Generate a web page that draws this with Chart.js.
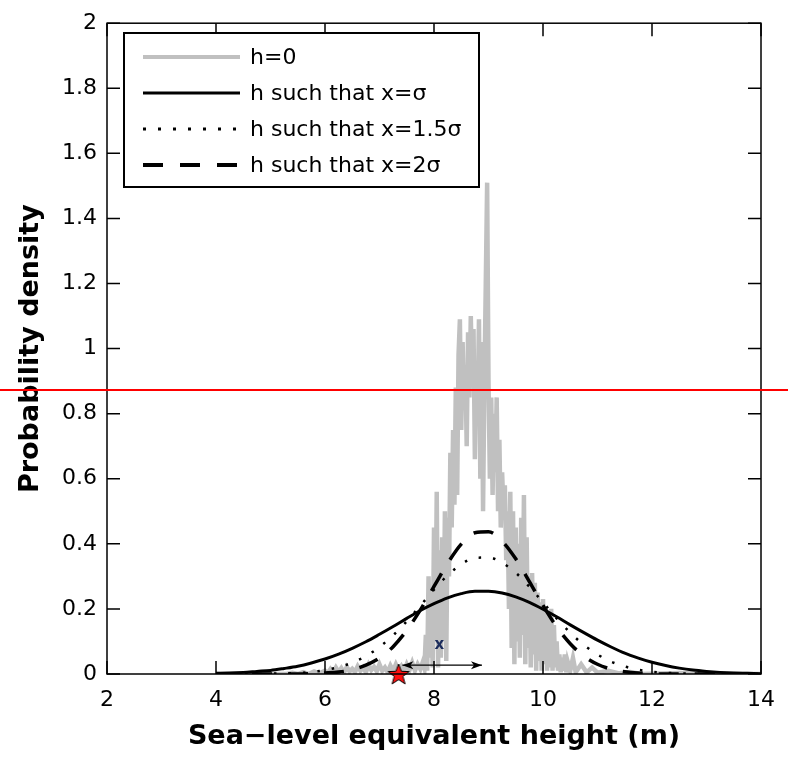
<!DOCTYPE html>
<html>
<head>
<meta charset="utf-8">
<script src="https://cdn.jsdelivr.net/npm/chart.js@4.4.0/dist/chart.umd.min.js"></script>
<style>
  html, body { margin: 0; padding: 0; background: #fff; }
</style>
</head>
<body>
<canvas id="chart" width="788" height="765"></canvas>
<script>
// values
var xTicks = [2, 4, 6, 8, 10, 12, 14];
var yTicks = [0, 0.2, 0.4, 0.6, 0.8, 1, 1.2, 1.4, 1.6, 1.8, 2];
var yTickLabels = ['0', '0.2', '0.4', '0.6', '0.8', '1', '1.2', '1.4', '1.6', '1.8', '2'];

var legendLabels = ['h=0', 'h such that x=\u03c3', 'h such that x=1.5\u03c3', 'h such that x=2\u03c3'];

// smooth curves, sampled every 0.25 m
var curveX = [4, 4.25, 4.5, 4.75, 5, 5.25, 5.5, 5.75, 6, 6.25, 6.5, 6.75, 7, 7.25, 7.5, 7.75,
  8, 8.25, 8.5, 8.75, 9, 9.25, 9.5, 9.75, 10, 10.25, 10.5, 10.75, 11, 11.25, 11.5, 11.75,
  12, 12.25, 12.5, 12.75, 13, 13.25, 13.5, 13.75, 14];
var solidY = [0.002, 0.003, 0.005, 0.008, 0.011, 0.017, 0.024, 0.034, 0.046, 0.061, 0.079, 0.099, 0.122, 0.146, 0.171, 0.195,
  0.216, 0.234, 0.247, 0.254, 0.254, 0.249, 0.237, 0.220, 0.199, 0.176, 0.151, 0.127, 0.104, 0.083, 0.064, 0.049,
  0.036, 0.026, 0.018, 0.012, 0.008, 0.005, 0.003, 0.002, 0.001];
var dottedY = [0, 0, 0, 0, 0.001, 0.002, 0.003, 0.006, 0.012, 0.021, 0.035, 0.055, 0.083, 0.119, 0.162, 0.21,
  0.259, 0.303, 0.337, 0.357, 0.358, 0.342, 0.311, 0.268, 0.22, 0.171, 0.127, 0.089, 0.06, 0.038, 0.023, 0.013,
  0.007, 0.004, 0.002, 0.001, 0, 0, 0, 0, 0];
var dashedY = [0, 0, 0, 0, 0, 0, 0, 0.001, 0.003, 0.006, 0.013, 0.027, 0.049, 0.084, 0.134, 0.197,
  0.269, 0.34, 0.399, 0.434, 0.437, 0.408, 0.354, 0.284, 0.211, 0.145, 0.093, 0.055, 0.03, 0.015, 0.007, 0.003,
  0.001, 0, 0, 0, 0, 0, 0, 0, 0];

// noisy h=0 density, [height, density]
var grayPts = [
  [4, 0], [5.3, 0], [5.4, 0.004], [5.5, 0], [5.6, 0.006], [5.7, 0], [5.8, 0.008], [5.9, 0.002],
  [6.0, 0.01], [6.05, 0.003], [6.1, 0.015], [6.15, 0.004], [6.2, 0.02], [6.25, 0.006], [6.3, 0.018], [6.35, 0.005],
  [6.4, 0.022], [6.45, 0.008], [6.5, 0.016], [6.55, 0.006], [6.6, 0.024], [6.65, 0.01], [6.7, 0.02], [6.75, 0.005],
  [6.8, 0.028], [6.85, 0.012], [6.9, 0.022], [6.95, 0.008], [7.0, 0.03], [7.05, 0.01], [7.1, 0.02], [7.15, 0.006],
  [7.2, 0.026], [7.25, 0.01], [7.3, 0.03], [7.35, 0.012], [7.4, 0.024], [7.45, 0.008], [7.5, 0.03], [7.55, 0.012],
  [7.6, 0.035], [7.65, 0.01], [7.7, 0.03], [7.75, 0.015], [7.8, 0.04],
  [7.825, 0.02], [7.85, 0.12], [7.875, 0.01], [7.9, 0.3], [7.925, 0.05], [7.95, 0.22], [7.975, 0.02],
  [8.0, 0.45], [8.025, 0.1], [8.05, 0.56], [8.075, 0.02], [8.1, 0.38], [8.125, 0.05], [8.15, 0.42], [8.175, 0.1],
  [8.2, 0.5], [8.225, 0.04], [8.25, 0.48], [8.275, 0.3], [8.3, 0.68], [8.325, 0.45], [8.35, 0.75], [8.375, 0.52],
  [8.4, 0.88], [8.425, 0.55], [8.45, 0.98], [8.475, 1.09], [8.5, 0.75], [8.525, 1.02], [8.55, 0.82], [8.575, 0.95],
  [8.6, 0.7], [8.625, 1.05], [8.65, 0.85], [8.675, 1.1], [8.7, 0.9], [8.725, 1.06], [8.75, 0.66], [8.775, 0.95],
  [8.8, 0.8], [8.825, 1.09], [8.85, 0.6], [8.875, 1.02], [8.9, 0.5], [8.925, 0.9], [8.95, 1.2], [8.975, 1.51],
  [9.0, 0.9], [9.025, 0.6], [9.05, 0.85], [9.075, 0.55], [9.1, 0.8], [9.125, 0.62], [9.15, 0.85], [9.175, 0.5],
  [9.2, 0.72], [9.225, 0.45], [9.25, 0.62], [9.275, 0.5], [9.3, 0.58], [9.325, 0.35], [9.35, 0.5], [9.375, 0.2],
  [9.4, 0.56], [9.425, 0.08], [9.45, 0.5], [9.475, 0.03], [9.5, 0.45], [9.525, 0.1], [9.55, 0.4], [9.575, 0.05],
  [9.6, 0.48], [9.625, 0.12], [9.65, 0.55], [9.675, 0.03], [9.7, 0.42], [9.725, 0.08], [9.75, 0.3], [9.775, 0.02],
  [9.8, 0.31], [9.825, 0.06], [9.85, 0.28], [9.875, 0.01], [9.9, 0.25], [9.925, 0.04], [9.95, 0.22], [9.975, 0.01],
  [10.0, 0.23], [10.025, 0.03], [10.05, 0.2], [10.075, 0.01], [10.1, 0.18], [10.125, 0.02], [10.15, 0.2], [10.175, 0.01],
  [10.2, 0.15], [10.225, 0.02], [10.25, 0.1], [10.275, 0.01], [10.3, 0.06], [10.325, 0.005], [10.35, 0.05], [10.375, 0.01],
  [10.4, 0.06], [10.425, 0.005], [10.45, 0.04], [10.5, 0.01], [10.55, 0.05], [10.6, 0.005],
  [10.7, 0.03], [10.8, 0.005], [10.9, 0.02], [11.0, 0.004], [11.2, 0.01], [11.4, 0.002], [11.6, 0.006], [11.8, 0],
  [12.5, 0.003], [13.0, 0], [14, 0]
];

// annotations
var starPoint = [7.35, 0];
var arrowX = [7.42, 8.88];
var arrowY = 0.027;
var xMark = [8.1, 0.088];
var redLineY = 0.873;

function pairs(xs, ys) {
  return xs.map(function(x, i) { return {x: x, y: ys[i]}; });
}

// red star marker
function makeStar() {
  var c = document.createElement('canvas');
  c.width = 26; c.height = 26;
  var g = c.getContext('2d');
  g.beginPath();
  for (var i = 0; i < 10; i++) {
    var r = (i % 2 == 0) ? 11 : 4.6;
    var a = -Math.PI / 2 + i * Math.PI / 5;
    var px = 13 + r * Math.cos(a), py = 14 + r * Math.sin(a);
    if (i == 0) g.moveTo(px, py); else g.lineTo(px, py);
  }
  g.closePath();
  g.fillStyle = '#ff1010';
  g.fill();
  g.strokeStyle = '#000';
  g.lineWidth = 1;
  g.stroke();
  return c;
}

Chart.defaults.font.family = '"DejaVu Sans", sans-serif';
Chart.defaults.color = '#000';

var overlayPlugin = {
  id: 'overlay',
  afterDatasetsDraw: function(chart) {
    var ctx = chart.ctx, a = chart.chartArea;
    var xs = chart.scales.x, ys = chart.scales.y;
    ctx.save();
    // box
    ctx.strokeStyle = '#000';
    ctx.lineWidth = 1.5;
    ctx.strokeRect(a.left, a.top, a.right - a.left, a.bottom - a.top);
    // inward ticks
    ctx.beginPath();
    xTicks.forEach(function(v) {
      var px = xs.getPixelForValue(v);
      ctx.moveTo(px, a.bottom); ctx.lineTo(px, a.bottom - 13);
      ctx.moveTo(px, a.top); ctx.lineTo(px, a.top + 13);
    });
    yTicks.forEach(function(v) {
      var py = ys.getPixelForValue(v);
      ctx.moveTo(a.left, py); ctx.lineTo(a.left + 13, py);
      ctx.moveTo(a.right, py); ctx.lineTo(a.right - 13, py);
    });
    ctx.stroke();

    // double arrow
    var x1 = xs.getPixelForValue(arrowX[0]), x2 = xs.getPixelForValue(arrowX[1]);
    var ay = ys.getPixelForValue(arrowY);
    ctx.lineWidth = 1.2;
    ctx.beginPath(); ctx.moveTo(x1, ay); ctx.lineTo(x2, ay); ctx.stroke();
    ctx.fillStyle = '#000';
    ctx.beginPath(); ctx.moveTo(x1, ay); ctx.lineTo(x1 + 11, ay - 4); ctx.lineTo(x1 + 8, ay); ctx.lineTo(x1 + 11, ay + 4); ctx.closePath(); ctx.fill();
    ctx.beginPath(); ctx.moveTo(x2, ay); ctx.lineTo(x2 - 11, ay - 4); ctx.lineTo(x2 - 8, ay); ctx.lineTo(x2 - 11, ay + 4); ctx.closePath(); ctx.fill();
    ctx.fillStyle = '#1b2c5c';
    ctx.font = 'bold 15px "DejaVu Sans"';
    ctx.textAlign = 'center';
    ctx.textBaseline = 'middle';
    ctx.fillText('x', xs.getPixelForValue(xMark[0]), ys.getPixelForValue(xMark[1]));

    // red reference line across the figure
    var ry = ys.getPixelForValue(redLineY);
    ctx.strokeStyle = '#ff0000';
    ctx.lineWidth = 2;
    ctx.beginPath(); ctx.moveTo(0, ry); ctx.lineTo(chart.width, ry); ctx.stroke();
    ctx.restore();
  },
  afterDraw: function(chart) {
    // boxed legend in the top-left corner
    var ctx = chart.ctx;
    var L = 124, T = 33, R = 479, B = 187;
    ctx.save();
    ctx.fillStyle = '#fff';
    ctx.fillRect(L, T, R - L, B - T);
    ctx.strokeStyle = '#000';
    ctx.lineWidth = 2;
    ctx.strokeRect(L, T, R - L, B - T);
    ctx.font = '22px "DejaVu Sans"';
    ctx.textBaseline = 'middle';
    ctx.textAlign = 'left';
    for (var i = 0; i < 4; i++) {
      var ds = chart.data.datasets[i];
      var y = 57 + i * 36;
      ctx.strokeStyle = ds.borderColor;
      ctx.lineWidth = ds.legendWidth || ds.borderWidth;
      ctx.setLineDash(ds.legendDash || []);
      ctx.beginPath(); ctx.moveTo(143, y); ctx.lineTo(240, y); ctx.stroke();
      ctx.setLineDash([]);
      ctx.fillStyle = '#000';
      ctx.fillText(ds.label, 250, y + 1);
    }
    ctx.restore();
  }
};

var ctx = document.getElementById('chart').getContext('2d');
window.densityChart = new Chart(ctx, {
  type: 'line',
  data: {
    datasets: [{
      label: legendLabels[0],
      data: grayPts.map(function(p) { return {x: p[0], y: p[1]}; }),
      borderColor: '#c0c0c0',
      borderWidth: 4.5,
      legendWidth: 4,
      pointRadius: 0,
      tension: 0,
      order: 10
    }, {
      label: legendLabels[1],
      data: pairs(curveX, solidY),
      borderColor: '#000',
      borderWidth: 3,
      pointRadius: 0,
      cubicInterpolationMode: 'monotone',
      order: 3
    }, {
      label: legendLabels[2],
      data: pairs(curveX, dottedY),
      borderColor: '#000',
      borderWidth: 2.5,
      borderDash: [2.5, 12],
      legendDash: [3, 12],
      legendWidth: 3,
      pointRadius: 0,
      cubicInterpolationMode: 'monotone',
      order: 2
    }, {
      label: legendLabels[3],
      data: pairs(curveX, dashedY),
      borderColor: '#000',
      borderWidth: 3.5,
      borderDash: [20, 16],
      legendDash: [20, 17],
      legendWidth: 4,
      pointRadius: 0,
      cubicInterpolationMode: 'monotone',
      order: 1
    }, {
      label: 'star',
      data: [{x: starPoint[0], y: starPoint[1]}],
      showLine: false,
      pointStyle: makeStar(),
      pointRadius: 10,
      clip: false,
      order: 0
    }]
  },
  options: {
    responsive: false,
    devicePixelRatio: 1,
    animation: false,
    events: [],
    layout: { padding: { left: 0, right: 17, top: 18, bottom: 0 } },
    plugins: {
      legend: { display: false },
      tooltip: { enabled: false }
    },
    scales: {
      x: {
        type: 'linear',
        min: 2,
        max: 14,
        afterBuildTicks: function(s) { s.ticks = xTicks.map(function(v) { return {value: v}; }); },
        afterFit: function(s) { s.height = 91; },
        grid: { display: false, drawTicks: false },
        border: { display: false },
        ticks: { font: { size: 22 }, padding: 13, maxRotation: 0 },
        title: {
          display: true,
          text: 'Sea\u2212level equivalent height (m)',
          font: { size: 27, weight: 'bold' },
          padding: { bottom: 12 }
        }
      },
      y: {
        min: 0,
        max: 2,
        afterBuildTicks: function(s) { s.ticks = yTicks.map(function(v) { return {value: v}; }); },
        afterFit: function(s) { s.width = 107; },
        grid: { display: false, drawTicks: false },
        border: { display: false },
        ticks: {
          font: { size: 22 },
          padding: 10,
          callback: function(v, i) { return yTickLabels[i]; }
        },
        title: {
          display: true,
          text: 'Probability density',
          font: { size: 27, weight: 'bold' },
          padding: { top: 15 }
        }
      }
    }
  },
  plugins: [overlayPlugin]
});
</script>
</body>
</html>
